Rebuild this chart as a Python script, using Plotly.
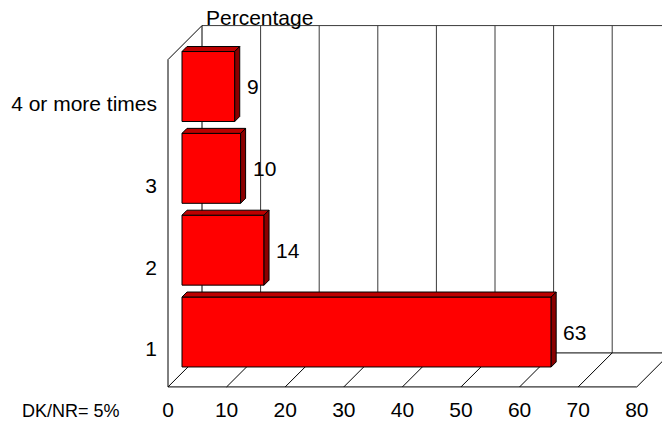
import plotly.graph_objects as go

# Survey answers (bottom to top) and their percentages
categories = ["1", "2", "3", "4 or more times"]
values = [63, 14, 10, 9]
x_ticks = [0, 10, 20, 30, 40, 50, 60, 70, 80]
note_text = "DK/NR= 5%"
axis_title = "Percentage"

# Figure geometry (pixels)
W, H = 662, 423
L, R, T, B = 160, 0, 0, 28
plot_w, plot_h = W - L - R, H - T - B
kx = 5.86          # pixels per percentage point
ky = 81.83         # pixels per category step
bar_front = 14     # depth of the bar's front face, px behind the front plane
bar_depth = 5      # thickness of each bar, px
wall_depth = 34    # full depth of the chart box, px
bar_w = 0.855
x_max = x_ticks[-1]
floor_y = -0.5
top_y = len(categories) - 0.5

# axis ranges so that value 0 of the bar plane sits 22px into the plot
x0 = -(182 - L) / kx
x_range = [x0, x0 + plot_w / kx]
y_range = [(332 - (T + plot_h)) / ky, (332 - T) / ky]


def pt(v, yv, d):
    """Project a point (value, category level, depth in px) onto the 2D axes."""
    return v + (d - bar_front) / kx, yv + (d - bar_front) / ky


def seg(p, q, color="black", width=1, layer="below"):
    return dict(type="line", xref="x", yref="y", x0=p[0], y0=p[1], x1=q[0], y1=q[1],
                line=dict(color=color, width=width), layer=layer)


def poly(points, fill):
    path = "M " + " L ".join(f"{x},{y}" for x, y in points) + " Z"
    return dict(type="path", xref="x", yref="y", path=path, fillcolor=fill,
                line=dict(color="black", width=1), layer="above")


shapes = []
# back wall: gridlines and edges
for v in x_ticks:
    shapes.append(seg(pt(v, floor_y, wall_depth), pt(v, top_y, wall_depth),
                      color="black" if v == 0 else "#3a3a3a"))
shapes.append(seg(pt(0, top_y, wall_depth), pt(x_max + 5, top_y, wall_depth), color="#3a3a3a"))
# floor
shapes.append(seg(pt(0, floor_y, wall_depth), pt(x_max, floor_y, wall_depth)))
shapes.append(seg(pt(0, floor_y, 0), pt(x_max, floor_y, 0)))
for v in x_ticks:
    shapes.append(seg(pt(v, floor_y, 0), pt(v, floor_y, wall_depth)))
# left wall
shapes.append(seg(pt(0, floor_y, 0), pt(0, top_y, 0)))
shapes.append(seg(pt(0, top_y, 0), pt(0, top_y, wall_depth)))

positions = list(range(len(categories)))

# top and right-hand faces of the bars
for i, v in zip(positions, values):
    yt, yb = i + bar_w / 2, i - bar_w / 2
    d0, d1 = bar_front, bar_front + bar_depth
    shapes.append(poly([pt(0, yt, d0), pt(v, yt, d0), pt(v, yt, d1), pt(0, yt, d1)], "#BC0000"))
    shapes.append(poly([pt(v, yb, d0), pt(v, yt, d0), pt(v, yt, d1), pt(v, yb, d1)], "#8A0000"))

fig = go.Figure()
fig.add_trace(go.Bar(
    x=values, y=positions, orientation="h", width=bar_w,
    marker=dict(color="#FF0000", line=dict(color="black", width=1)),
    hoverinfo="skip",
))

family = "Liberation Sans, Arial, sans-serif"
font = dict(family=family, size=21, color="black")

annotations = [
    dict(x=v, y=i, xref="x", yref="y", text=str(v), showarrow=False,
         xanchor="left", yanchor="middle", xshift=10, font=font)
    for i, v in zip(positions, values)
]
annotations.append(dict(x=(204 - L) / plot_w, y=1 - 17 / plot_h, xref="paper", yref="paper",
                        text=axis_title, showarrow=False, xanchor="left", yanchor="middle",
                        font=font))
annotations.append(dict(x=(20 - L) / plot_w, y=-(411 - plot_h) / plot_h, xref="paper", yref="paper",
                        text=note_text, showarrow=False, xanchor="left", yanchor="middle",
                        font=dict(family=family, size=18, color="black")))

fig.update_layout(
    width=W, height=H,
    margin=dict(l=L, r=R, t=T, b=B, pad=0),
    paper_bgcolor="white", plot_bgcolor="white",
    showlegend=False,
    font=font,
    shapes=shapes,
    annotations=annotations,
    xaxis=dict(range=x_range, showgrid=False, zeroline=False, showline=False,
               tickvals=[v - bar_front / kx for v in x_ticks],
               ticktext=[str(v) for v in x_ticks], ticks="", tickfont=font),
    yaxis=dict(range=y_range, showgrid=False, zeroline=False, showline=False,
               tickvals=[i - 17 / ky for i in positions],
               ticktext=categories, ticks="", tickfont=font, ticklabelstandoff=2),
)

fig.write_html("out.html")
